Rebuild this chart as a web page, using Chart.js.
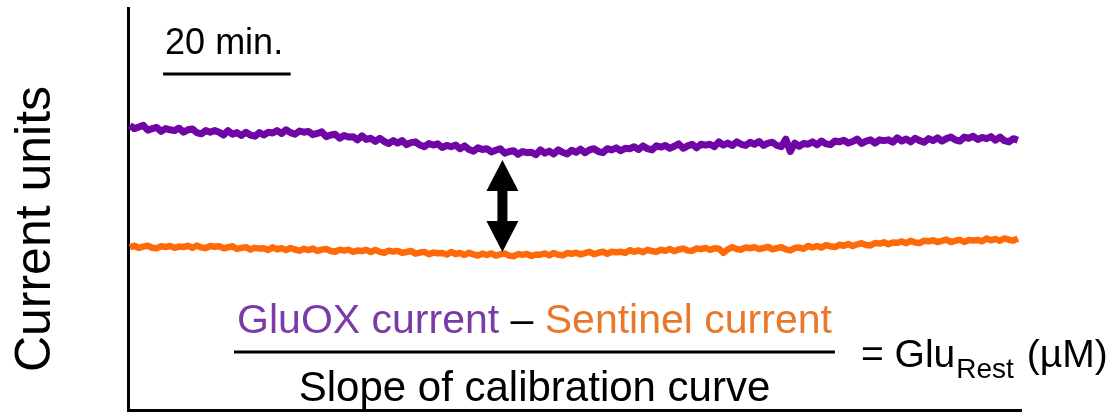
<!DOCTYPE html>
<html>
<head>
<meta charset="utf-8">
<script src="https://cdn.jsdelivr.net/npm/chart.js@4/dist/chart.umd.min.js"></script>
<style>
  html, body { margin: 0; padding: 0; background: #fff; }
  #wrap { width: 1117px; height: 419px; position: relative; }
</style>
</head>
<body>
<div id="wrap"><canvas id="c"></canvas></div>
<script>
// Recording window (minutes); both traces are sampled evenly across it
const T_START = 0.3;
const T_END = 139.5;

// GluOX electrode current (arbitrary current units)
const gluoxCurrent = [
  70.8, 70.0, 70.4, 70.8, 69.6, 70.0, 70.3, 69.3, 70.0, 69.7,
  69.5, 70.1, 69.1, 69.7, 69.9, 69.0, 68.7, 69.5, 69.1, 69.5,
  69.1, 68.4, 69.5, 68.6, 69.0, 68.3, 69.1, 68.4, 68.1, 69.0,
  68.4, 69.1, 68.9, 69.5, 68.8, 69.7, 69.0, 68.6, 69.4, 69.1,
  69.3, 68.5, 68.8, 69.2, 68.0, 68.4, 68.6, 67.6, 68.3, 67.9,
  68.0, 67.2, 68.2, 67.3, 67.6, 66.8, 67.6, 66.8, 66.3, 67.0,
  66.4, 67.0, 66.0, 66.5, 66.7, 65.9, 65.5, 66.3, 65.9, 66.2,
  65.3, 65.8, 65.5, 65.9, 65.0, 65.7, 64.8, 64.4, 65.2, 64.8,
  65.0, 64.2, 64.6, 65.0, 63.9, 64.3, 64.5, 63.6, 64.3, 64.0,
  64.1, 63.5, 64.7, 63.9, 64.4, 63.7, 64.7, 64.1, 63.7, 64.6,
  64.1, 64.9, 64.0, 64.7, 65.0, 64.3, 64.0, 65.0, 64.7, 65.2,
  64.5, 65.1, 65.0, 65.5, 64.8, 65.7, 65.0, 64.7, 65.7, 65.4,
  65.8, 65.1, 65.6, 66.2, 65.1, 65.7, 66.1, 65.2, 66.1, 65.9,
  66.1, 65.5, 66.7, 65.9, 66.4, 65.8, 66.7, 66.1, 65.8, 66.6,
  66.1, 66.8, 65.8, 66.4, 66.6, 65.8, 65.5, 67.4, 64.3, 66.4,
  65.6, 66.3, 66.1, 66.7, 66.0, 66.9, 66.2, 66.0, 66.9, 66.7,
  67.1, 66.4, 66.8, 67.4, 66.3, 66.9, 67.2, 66.4, 67.2, 67.0,
  67.2, 66.6, 67.7, 66.9, 67.4, 66.7, 67.6, 67.0, 66.6, 67.5,
  67.0, 67.7, 66.9, 67.5, 67.9, 67.2, 66.9, 67.9, 67.6, 68.1,
  67.3, 67.8, 67.5, 68.0, 67.1, 67.9, 67.0, 66.7, 67.5, 67.1
];

// Sentinel electrode current (arbitrary current units)
const sentinelCurrent = [
  40.45, 40.85, 40.30, 40.65, 40.85, 40.35, 40.20, 40.75, 40.55, 40.80,
  40.35, 40.65, 40.55, 40.85, 40.35, 40.90, 40.45, 40.25, 40.80, 40.60,
  40.73, 40.25, 40.47, 40.74, 40.06, 40.33, 40.50, 39.92, 40.34, 40.15,
  40.21, 39.83, 40.45, 39.98, 40.25, 39.77, 40.30, 39.92, 39.64, 40.11,
  39.78, 40.15, 39.58, 39.90, 40.07, 39.54, 39.36, 39.89, 39.66, 39.88,
  39.35, 39.67, 39.55, 39.82, 39.29, 39.82, 39.34, 39.11, 39.64, 39.41,
  39.58, 39.10, 39.31, 39.58, 38.90, 39.16, 39.33, 38.75, 39.16, 38.98,
  39.05, 38.67, 39.28, 38.80, 39.07, 38.58, 39.10, 38.72, 38.43, 38.90,
  38.56, 38.95, 38.39, 38.73, 38.92, 38.41, 38.25, 38.79, 38.58, 38.82,
  38.31, 38.69, 38.62, 38.95, 38.48, 39.06, 38.64, 38.47, 39.05, 38.88,
  39.11, 38.71, 39.01, 39.36, 38.76, 39.11, 39.36, 38.86, 39.36, 39.25,
  39.39, 39.08, 39.76, 39.35, 39.68, 39.27, 39.85, 39.54, 39.32, 39.86,
  39.60, 40.04, 39.53, 39.92, 40.16, 39.70, 39.59, 40.18, 40.02, 40.31,
  39.85, 40.21, 40.12, 39.10, 39.94, 40.50, 40.06, 39.87, 40.43, 40.25,
  40.47, 40.03, 40.29, 40.60, 39.96, 40.27, 40.48, 39.94, 39.70, 40.28,
  40.40, 40.11, 40.82, 40.43, 40.79, 40.41, 41.02, 40.73, 40.54, 41.10,
  40.85, 41.31, 40.81, 41.22, 41.47, 41.03, 40.93, 41.54, 41.39, 41.70,
  41.25, 41.65, 41.59, 41.94, 41.49, 42.08, 41.68, 41.53, 42.12, 41.97,
  42.20, 41.78, 42.06, 42.39, 41.77, 42.10, 42.33, 41.81, 42.29, 42.17,
  42.30, 41.97, 42.65, 42.22, 42.54, 42.12, 42.69, 42.36, 42.14, 42.66
];

// Scale bar (minutes) and the difference arrow (time, current from/to)
const SCALE_BAR = { start: 5.5, length: 20, level: 83.6, label: '20 min.' };
const DIFF_ARROW = { time: 58.7, top: 62.2, bottom: 39.3 };

const stepMin = (T_END - T_START) / (gluoxCurrent.length - 1);
const times = gluoxCurrent.map((_, i) => T_START + i * stepMin);
const toPoints = (vals) => vals.map((v, i) => ({ x: times[i], y: v }));

const FONT = '"Liberation Sans", Arial, Helvetica, sans-serif';
const PURPLE_LINE = '#7006a6';
const ORANGE_LINE = '#ff6a08';
const PURPLE_TEXT = '#7a3aa8';
const ORANGE_TEXT = '#e8782a';

const annotations = {
  id: 'annotations',
  afterDraw(chart) {
    const { ctx, scales: { x, y } } = chart;
    ctx.save();

    // y-axis title
    ctx.fillStyle = '#000';
    ctx.font = '50px ' + FONT;
    ctx.textAlign = 'center';
    ctx.textBaseline = 'alphabetic';
    ctx.translate(50, 229);
    ctx.rotate(-Math.PI / 2);
    ctx.fillText('Current units', 0, 0);
    ctx.setTransform(1, 0, 0, 1, 0, 0);

    // time scale bar
    const bx0 = x.getPixelForValue(SCALE_BAR.start);
    const bx1 = x.getPixelForValue(SCALE_BAR.start + SCALE_BAR.length);
    const by = y.getPixelForValue(SCALE_BAR.level);
    ctx.strokeStyle = '#000';
    ctx.lineWidth = 3;
    ctx.beginPath();
    ctx.moveTo(bx0, by);
    ctx.lineTo(bx1, by);
    ctx.stroke();
    ctx.font = '36px ' + FONT;
    ctx.textAlign = 'left';
    ctx.fillText(SCALE_BAR.label, bx0 + 2, by - 20);

    // double-headed arrow between the two traces
    const ax = x.getPixelForValue(DIFF_ARROW.time);
    const ay0 = y.getPixelForValue(DIFF_ARROW.top);
    const ay1 = y.getPixelForValue(DIFF_ARROW.bottom);
    const headW = 16, headL = 31, shaftW = 5;
    ctx.fillStyle = '#000';
    ctx.beginPath();
    ctx.moveTo(ax, ay0);
    ctx.lineTo(ax + headW, ay0 + headL);
    ctx.lineTo(ax + shaftW, ay0 + headL);
    ctx.lineTo(ax + shaftW, ay1 - headL);
    ctx.lineTo(ax + headW, ay1 - headL);
    ctx.lineTo(ax, ay1);
    ctx.lineTo(ax - headW, ay1 - headL);
    ctx.lineTo(ax - shaftW, ay1 - headL);
    ctx.lineTo(ax - shaftW, ay0 + headL);
    ctx.lineTo(ax - headW, ay0 + headL);
    ctx.closePath();
    ctx.fill();

    // formula: (GluOX current – Sentinel current) / slope = Glu_Rest
    const fx0 = 234, fx1 = 835, fy = 352;
    const cx = (fx0 + fx1) / 2;
    ctx.fillRect(fx0, fy - 1.5, fx1 - fx0, 3);

    const parts = [
      { t: 'GluOX current', c: PURPLE_TEXT },
      { t: ' \u2013 ', c: '#000' },
      { t: 'Sentinel current', c: ORANGE_TEXT }
    ];
    ctx.font = '41px ' + FONT;
    ctx.textAlign = 'left';
    const total = parts.reduce((s, p) => s + ctx.measureText(p.t).width, 0);
    let px = cx - total / 2;
    parts.forEach(p => {
      ctx.fillStyle = p.c;
      ctx.fillText(p.t, px, 333);
      px += ctx.measureText(p.t).width;
    });

    ctx.fillStyle = '#000';
    ctx.font = '42px ' + FONT;
    ctx.textAlign = 'center';
    ctx.fillText('Slope of calibration curve', cx, 401);

    ctx.textAlign = 'left';
    let ex = 861;
    ctx.font = '39px ' + FONT;
    ctx.fillText('= Glu', ex, 367);
    ex += ctx.measureText('= Glu').width;
    ctx.font = '28px ' + FONT;
    ctx.fillText('Rest', ex + 1, 378);
    ex += ctx.measureText('Rest').width + 3;
    ctx.font = '39px ' + FONT;
    ctx.fillText(' (\u00b5M)', ex, 367);

    ctx.restore();
  }
};

new Chart(document.getElementById('c'), {
  type: 'line',
  data: {
    datasets: [
      {
        label: 'GluOX current',
        data: toPoints(gluoxCurrent),
        borderColor: PURPLE_LINE,
        borderWidth: 7,
        borderJoinStyle: 'round',
        pointRadius: 0,
        tension: 0
      },
      {
        label: 'Sentinel current',
        data: toPoints(sentinelCurrent),
        borderColor: ORANGE_LINE,
        borderWidth: 6.5,
        borderJoinStyle: 'round',
        pointRadius: 0,
        tension: 0
      }
    ]
  },
  options: {
    responsive: true,
    maintainAspectRatio: false,
    animation: false,
    events: [],
    layout: { padding: { left: 128, right: 96, top: 8, bottom: 9 } },
    plugins: { legend: { display: false }, tooltip: { enabled: false } },
    scales: {
      x: {
        type: 'linear',
        min: 0,
        max: 140,
        grid: { display: false, drawTicks: false },
        ticks: { display: false },
        border: { display: true, color: '#000', width: 3 },
        afterFit(scale) { scale.height = 0; }
      },
      y: {
        type: 'linear',
        min: 0,
        max: 100,
        grid: { display: false, drawTicks: false },
        ticks: { display: false },
        border: { display: true, color: '#000', width: 3 },
        afterFit(scale) { scale.width = 0; }
      }
    }
  },
  plugins: [annotations]
});
</script>
</body>
</html>
